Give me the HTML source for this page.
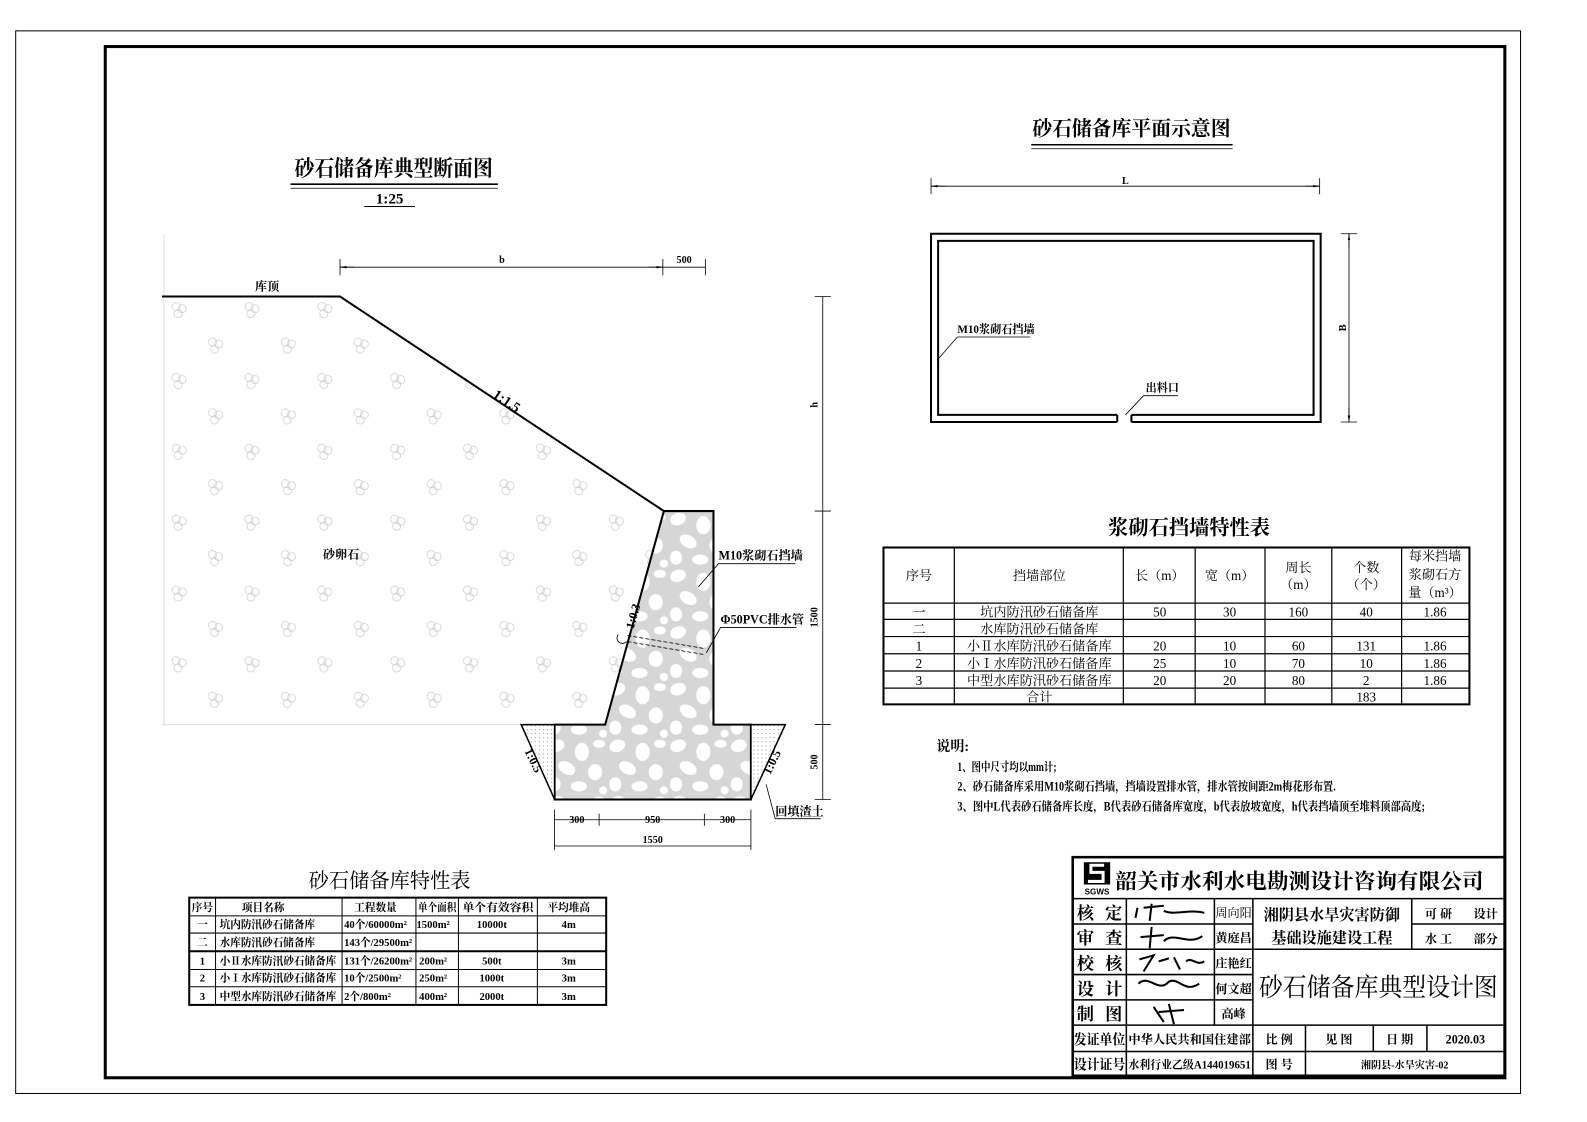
<!DOCTYPE html>
<html><head><meta charset="utf-8"><style>
html,body{margin:0;padding:0;background:#fff;}
svg{display:block;}
text{font-family:"Liberation Serif","Noto Serif CJK SC","Noto Sans CJK SC",serif;fill:#000;}
.b{font-weight:bold;}
.s{font-family:"Liberation Sans","Noto Sans CJK SC",sans-serif;}
</style></head><body>
<svg width="1587" height="1122" viewBox="0 0 1587 1122" xmlns="http://www.w3.org/2000/svg">
<defs>
<pattern id="flw" x="160" y="293" width="72" height="70" patternUnits="userSpaceOnUse">
 <g fill="none" stroke="#d0d0d0" stroke-width="0.8">
  <circle cx="14" cy="10" r="4"/><circle cx="20" cy="12" r="4"/><circle cx="16" cy="17" r="4"/>
  <circle cx="50" cy="45" r="4"/><circle cx="56" cy="47" r="4"/><circle cx="52" cy="52" r="4"/>
 </g>
</pattern>
<pattern id="stone" x="540" y="505" width="60" height="56" patternUnits="userSpaceOnUse">
 <rect width="60" height="56" fill="#d6d6d6"/>
 <g fill="#fff">
  <ellipse cx="10" cy="8" rx="8" ry="6" transform="rotate(-20 10 8)"/>
  <ellipse cx="35" cy="14" rx="7" ry="9"/>
  <ellipse cx="52" cy="6" rx="6" ry="4"/>
  <ellipse cx="20" cy="30" rx="9" ry="6" transform="rotate(30 20 30)"/>
  <ellipse cx="48" cy="34" rx="7" ry="8"/>
  <ellipse cx="8" cy="46" rx="6" ry="7"/>
  <ellipse cx="32" cy="48" rx="8" ry="5"/>
  <ellipse cx="56" cy="52" rx="4" ry="4"/>
 </g>
</pattern>
<pattern id="dots" width="4" height="4" patternUnits="userSpaceOnUse">
 <rect width="4" height="4" fill="#fff"/><circle cx="1" cy="1" r="0.6" fill="#999"/>
</pattern>
<marker id="ar" markerWidth="8" markerHeight="6" refX="8" refY="3" orient="auto-start-reverse"><path d="M0,1.5 L8,3 L0,4.5z" fill="#000"/></marker>
</defs>
<g transform="scale(1.012)">
<!-- frames -->
<rect x="15.5" y="30.5" width="1487" height="1050" fill="none" stroke="#000" stroke-width="1"/>
<rect x="104" y="46" width="1383" height="1019" fill="none" stroke="#000" stroke-width="3"/>

<!-- section title -->
<text x="389" y="174" font-size="22" text-anchor="middle" class="b" textLength="196" lengthAdjust="spacingAndGlyphs">砂石储备库典型断面图</text>
<line x1="287" y1="182" x2="492" y2="182" stroke="#000" stroke-width="1.5"/>
<line x1="287" y1="186" x2="492" y2="186" stroke="#000" stroke-width="0.8"/>
<text x="385" y="201" font-size="15" text-anchor="middle" class="b">1:25</text>
<line x1="360" y1="204" x2="410" y2="204" stroke="#000" stroke-width="1"/>

<!-- soil region -->
<polygon points="160,293 336,293 656,505 598,716 160,716" fill="url(#flw)"/>
<line x1="162" y1="232" x2="162" y2="716" stroke="#ddd" stroke-width="1"/>
<line x1="160" y1="716" x2="515" y2="716" stroke="#ddd" stroke-width="1"/>
<!-- wall -->
<polygon points="656,505 705,505 705,716 742,716 742,790 548,790 548,716 598,716" fill="url(#stone)" stroke="#000" stroke-width="2"/>
<polygon points="515,716 548,716 548,790" fill="url(#dots)" stroke="#000" stroke-width="1.5"/>
<polygon points="742,716 776,716 742,790" fill="url(#dots)" stroke="#000" stroke-width="1.5"/>
<polyline points="160,293 336,293 656,505" fill="none" stroke="#000" stroke-width="2"/>
<!-- drain pipe -->
<line x1="620" y1="628" x2="697" y2="641" stroke="#000" stroke-width="0.8" stroke-dasharray="4,2"/>
<line x1="620" y1="634" x2="697" y2="647" stroke="#000" stroke-width="0.8" stroke-dasharray="4,2"/>
<path d="M619,634 A5,5 0 0 1 611,627" fill="none" stroke="#000" stroke-width="0.8"/>

<!-- labels section -->
<text x="264" y="287" font-size="12" text-anchor="middle" class="b">库顶</text>
<text x="0" y="0" font-size="14" class="b" transform="translate(486,392) rotate(33.5)">1:1.5</text>
<text x="337" y="552" font-size="12" text-anchor="middle" class="b">砂卵石</text>
<text x="710" y="553" font-size="12" class="b">M10浆砌石挡墙</text>
<polyline points="786,557 710,557 690,580" fill="none" stroke="#000" stroke-width="0.8"/>
<text x="712" y="616" font-size="12" class="b">Φ50PVC排水管</text>
<polyline points="787,620 712,620 698,645" fill="none" stroke="#000" stroke-width="0.8"/>
<text x="0" y="0" font-size="12" class="b" transform="translate(626,622) rotate(-74)">1:0.3</text>
<text x="0" y="0" font-size="12" class="b" transform="translate(518,742) rotate(64)">1:0.5</text>
<text x="0" y="0" font-size="12" class="b" transform="translate(761,766) rotate(-64)">1:0.5</text>
<text x="766" y="806" font-size="12" class="b">回填渣土</text>
<polyline points="811,809 766,809 757,775" fill="none" stroke="#000" stroke-width="0.8"/>

<!-- dims top -->
<g stroke="#000" stroke-width="0.8">
<line x1="336" y1="264" x2="697" y2="264"/>
<line x1="336" y1="256" x2="336" y2="272"/><line x1="655" y1="256" x2="655" y2="272"/><line x1="697" y1="256" x2="697" y2="272"/>
<line x1="336" y1="264" x2="350" y2="264" marker-start="url(#ar)"/>
<line x1="641" y1="264" x2="655" y2="264" marker-end="url(#ar)"/>
<line x1="813" y1="293" x2="813" y2="790"/>
<line x1="805" y1="293" x2="821" y2="293"/><line x1="805" y1="505" x2="821" y2="505"/>
<line x1="805" y1="716" x2="821" y2="716"/><line x1="805" y1="790" x2="821" y2="790"/>
<line x1="548" y1="810" x2="742" y2="810"/>
<line x1="548" y1="800" x2="548" y2="840"/><line x1="592" y1="804" x2="592" y2="816"/>
<line x1="696" y1="804" x2="696" y2="816"/><line x1="742" y1="800" x2="742" y2="840"/>
<line x1="548" y1="836" x2="742" y2="836"/>
</g>
<text x="496" y="260" font-size="10" text-anchor="middle" class="b">b</text>
<text x="676" y="260" font-size="10" text-anchor="middle" class="b">500</text>
<text x="0" y="0" font-size="10" class="b" text-anchor="middle" transform="translate(808,400) rotate(-90)">h</text>
<text x="0" y="0" font-size="10" class="b" text-anchor="middle" transform="translate(808,610) rotate(-90)">1500</text>
<text x="0" y="0" font-size="10" class="b" text-anchor="middle" transform="translate(808,753) rotate(-90)">500</text>
<text x="570" y="813" font-size="10" text-anchor="middle" class="b">300</text>
<text x="645" y="813" font-size="10" text-anchor="middle" class="b">950</text>
<text x="719" y="813" font-size="10" text-anchor="middle" class="b">300</text>
<text x="645" y="833" font-size="10" text-anchor="middle" class="b">1550</text>

<!-- plan -->
<text x="1118" y="134" font-size="20" text-anchor="middle" class="b" textLength="196" lengthAdjust="spacingAndGlyphs">砂石储备库平面示意图</text>
<line x1="1019" y1="143" x2="1218" y2="143" stroke="#000" stroke-width="1.5"/>
<line x1="1019" y1="147" x2="1218" y2="147" stroke="#000" stroke-width="0.8"/>
<g stroke="#000" stroke-width="0.8">
<line x1="920" y1="184" x2="1304" y2="184"/>
<line x1="920" y1="176" x2="920" y2="192"/><line x1="1304" y1="176" x2="1304" y2="192"/>
<line x1="920" y1="184" x2="934" y2="184" marker-start="url(#ar)"/>
<line x1="1290" y1="184" x2="1304" y2="184" marker-end="url(#ar)"/>
<line x1="1333" y1="231" x2="1333" y2="417"/>
<line x1="1325" y1="231" x2="1341" y2="231"/><line x1="1325" y1="417" x2="1341" y2="417"/>
<line x1="1333" y1="231" x2="1333" y2="245" marker-start="url(#ar)"/>
<line x1="1333" y1="403" x2="1333" y2="417" marker-end="url(#ar)"/>
</g>
<text x="1112" y="182" font-size="10" text-anchor="middle" class="b">L</text>
<text x="0" y="0" font-size="10" text-anchor="middle" class="b" transform="translate(1330,324) rotate(-90)">B</text>
<g fill="none" stroke="#000" stroke-width="2">
<polyline points="1104,417 920,417 920,231 1305,231 1305,417 1118,417"/>
<polyline points="1104,410 927,410 927,238 1298,238 1298,410 1118,410"/>
<line x1="1104" y1="410" x2="1104" y2="417"/><line x1="1118" y1="410" x2="1118" y2="417"/>
</g>
<text x="946" y="329" font-size="11" class="b">M10浆砌石挡墙</text>
<polyline points="1018,333 946,333 926,356" fill="none" stroke="#000" stroke-width="0.8"/>
<text x="1132" y="387" font-size="11" class="b">出料口</text>
<polyline points="1164,391 1130,391 1112,410" fill="none" stroke="#000" stroke-width="0.8"/>

<!-- table right -->
<text x="1175" y="528" font-size="20" text-anchor="middle" class="b">浆砌石挡墙特性表</text>
<g stroke="#000" fill="none">
<rect x="873" y="541" width="579" height="155" stroke-width="2"/>
<g stroke-width="1.2">
<line x1="873" y1="596" x2="1452" y2="596"/><line x1="873" y1="612" x2="1452" y2="612"/>
<line x1="873" y1="629" x2="1452" y2="629"/><line x1="873" y1="646" x2="1452" y2="646"/>
<line x1="873" y1="663" x2="1452" y2="663"/><line x1="873" y1="680" x2="1452" y2="680"/>
<line x1="943" y1="541" x2="943" y2="696"/><line x1="1110" y1="541" x2="1110" y2="696"/>
<line x1="1181" y1="541" x2="1181" y2="696"/><line x1="1250" y1="541" x2="1250" y2="696"/>
<line x1="1316" y1="541" x2="1316" y2="696"/><line x1="1385" y1="541" x2="1385" y2="696"/>
</g></g>
<g font-size="13" text-anchor="middle" fill="#333">
<text x="908" y="573">序号</text><text x="1027" y="573">挡墙部位</text>
<text x="1146" y="573">长（m）</text><text x="1215" y="573">宽（m）</text>
<text x="1283" y="565">周长</text><text x="1283" y="582">（m）</text>
<text x="1350" y="565">个数</text><text x="1350" y="582">（个）</text>
<text x="1418" y="554">每米挡墙</text><text x="1418" y="572">浆砌石方</text><text x="1418" y="590">量（m³）</text>
<text x="908" y="609">一</text><text x="1027" y="609">坑内防汛砂石储备库</text><text x="1146" y="609">50</text><text x="1215" y="609">30</text><text x="1283" y="609">160</text><text x="1350" y="609">40</text><text x="1418" y="609">1.86</text>
<text x="908" y="626">二</text><text x="1027" y="626">水库防汛砂石储备库</text>
<text x="908" y="643">1</text><text x="1027" y="643">小Ⅱ水库防汛砂石储备库</text><text x="1146" y="643">20</text><text x="1215" y="643">10</text><text x="1283" y="643">60</text><text x="1350" y="643">131</text><text x="1418" y="643">1.86</text>
<text x="908" y="660">2</text><text x="1027" y="660">小Ⅰ水库防汛砂石储备库</text><text x="1146" y="660">25</text><text x="1215" y="660">10</text><text x="1283" y="660">70</text><text x="1350" y="660">10</text><text x="1418" y="660">1.86</text>
<text x="908" y="677">3</text><text x="1027" y="677">中型水库防汛砂石储备库</text><text x="1146" y="677">20</text><text x="1215" y="677">20</text><text x="1283" y="677">80</text><text x="1350" y="677">2</text><text x="1418" y="677">1.86</text>
<text x="1027" y="693">合计</text><text x="1350" y="693">183</text>
</g>

<!-- notes -->
<g class="b" font-size="12">
<text x="925" y="742" font-size="14" class="b">说明:</text>
<text x="946" y="762" textLength="98" lengthAdjust="spacingAndGlyphs">1、图中尺寸均以mm计;</text>
<text x="946" y="781" textLength="374" lengthAdjust="spacingAndGlyphs">2、砂石储备库采用M10浆砌石挡墙，挡墙设置排水管，排水管按间距2m梅花形布置.</text>
<text x="946" y="801" textLength="462" lengthAdjust="spacingAndGlyphs">3、图中L代表砂石储备库长度，B代表砂石储备库宽度，b代表放坡宽度，h代表挡墙顶至堆料顶部高度;</text>
</g>

<!-- table left -->
<text x="385" y="877" font-size="20" text-anchor="middle">砂石储备库特性表</text>
<g stroke="#000" fill="none">
<rect x="187" y="887" width="412" height="106" stroke-width="2"/>
<g stroke-width="1">
<line x1="187" y1="905" x2="599" y2="905"/><line x1="187" y1="922" x2="599" y2="922"/>
<line x1="187" y1="940" x2="599" y2="940" stroke-width="2"/><line x1="187" y1="958" x2="599" y2="958"/>
<line x1="187" y1="975" x2="599" y2="975"/>
<line x1="213" y1="887" x2="213" y2="993"/><line x1="338" y1="887" x2="338" y2="993"/>
<line x1="411" y1="887" x2="411" y2="993"/><line x1="453" y1="887" x2="453" y2="993"/>
<line x1="531" y1="887" x2="531" y2="993"/>
</g></g>
<g font-size="10.5" class="b">
<g text-anchor="middle">
<text x="200" y="900">序号</text><text x="260" y="900">项目名称</text><text x="371" y="900">工程数量</text><text x="432" y="900" textLength="38" lengthAdjust="spacingAndGlyphs">单个面积</text><text x="492" y="900" textLength="70" lengthAdjust="spacingAndGlyphs">单个有效容积</text><text x="562" y="900">平均堆高</text>
<text x="200" y="917">一</text><text x="200" y="935">二</text><text x="200" y="953">1</text><text x="200" y="970">2</text><text x="200" y="988">3</text>
<text x="428" y="917">1500m²</text><text x="486" y="917">10000t</text><text x="562" y="917">4m</text>
<text x="428" y="953">200m²</text><text x="486" y="953">500t</text><text x="562" y="953">3m</text>
<text x="428" y="970">250m²</text><text x="486" y="970">1000t</text><text x="562" y="970">3m</text>
<text x="428" y="988">400m²</text><text x="486" y="988">2000t</text><text x="562" y="988">3m</text>
</g>
<text x="217" y="917">坑内防汛砂石储备库</text><text x="217" y="935">水库防汛砂石储备库</text>
<text x="217" y="953">小Ⅱ水库防汛砂石储备库</text><text x="217" y="970">小Ⅰ水库防汛砂石储备库</text><text x="217" y="988">中型水库防汛砂石储备库</text>
<text x="340" y="917">40个/60000m²</text><text x="340" y="935">143个/29500m²</text><text x="340" y="953">131个/26200m²</text><text x="340" y="970">10个/2500m²</text><text x="340" y="988">2个/800m²</text>
</g>

<!-- title block -->
<g stroke="#000" fill="none">
<rect x="1060" y="847" width="427" height="216" stroke-width="2.5"/>
<g stroke-width="1.5">
<line x1="1060" y1="888" x2="1487" y2="888"/>
<line x1="1060" y1="913" x2="1238" y2="913"/>
<line x1="1060" y1="938" x2="1487" y2="938"/>
<line x1="1060" y1="963" x2="1238" y2="963"/>
<line x1="1060" y1="988" x2="1238" y2="988"/>
<line x1="1060" y1="1013" x2="1487" y2="1013"/>
<line x1="1060" y1="1039" x2="1487" y2="1039"/>
<line x1="1395" y1="913" x2="1487" y2="913"/>
<line x1="1113" y1="888" x2="1113" y2="1063"/>
<line x1="1200" y1="888" x2="1200" y2="1013"/>
<line x1="1238" y1="888" x2="1238" y2="1063"/>
<line x1="1395" y1="888" x2="1395" y2="938"/>
<line x1="1290" y1="1013" x2="1290" y2="1063"/>
<line x1="1357" y1="1013" x2="1357" y2="1039"/>
<line x1="1410" y1="1013" x2="1410" y2="1039"/>
</g></g>
<rect x="1071" y="852" width="26" height="22" fill="#000"/>
<path d="M1091,855 L1078,855 L1078,862 L1090,862 L1090,871 L1075,871" fill="none" stroke="#fff" stroke-width="3"/>
<text x="1084" y="884" font-size="8" text-anchor="middle" class="s b">SGWS</text>
<g class="s b">
<text x="1102" y="878" font-size="21" textLength="364" lengthAdjust="spacingAndGlyphs">韶关市水利水电勘测设计咨询有限公司</text>
<g font-size="17">
<text x="1064" y="908" textLength="45">核 定</text>
<text x="1064" y="933" textLength="45">审 查</text>
<text x="1064" y="958" textLength="45">校 核</text>
<text x="1064" y="983" textLength="45">设 计</text>
<text x="1064" y="1008" textLength="45">制 图</text>
</g>
<g font-size="12" text-anchor="middle">
<text x="1219" y="906" font-weight="normal">周向阳</text>
<text x="1219" y="931">黄庭昌</text>
<text x="1219" y="956">庄艳红</text>
<text x="1219" y="981">何文超</text>
<text x="1219" y="1006">高峰</text>
</g>
<text x="1316" y="909" font-size="15" text-anchor="middle">湘阴县水旱灾害防御</text>
<text x="1316" y="932" font-size="15" text-anchor="middle">基础设施建设工程</text>
<text x="1408" y="907" font-size="12">可 研</text><text x="1456" y="907" font-size="12">设计</text>
<text x="1408" y="932" font-size="12">水 工</text><text x="1456" y="932" font-size="12">部分</text>
<text x="1362" y="984" font-size="25" text-anchor="middle" font-weight="normal" textLength="236" lengthAdjust="spacingAndGlyphs">砂石储备库典型设计图</text>
<text x="1061" y="1032" font-size="14" textLength="51" lengthAdjust="spacingAndGlyphs">发证单位</text>
<text x="1115" y="1031" font-size="12" textLength="121" lengthAdjust="spacingAndGlyphs">中华人民共和国住建部</text>
<text x="1061" y="1057" font-size="14" textLength="51" lengthAdjust="spacingAndGlyphs">设计证号</text>
<text x="1115" y="1056" font-size="11" textLength="121" lengthAdjust="spacingAndGlyphs">水利行业乙级A144019651</text>
<g font-size="12" text-anchor="middle">
<text x="1264" y="1031">比 例</text><text x="1323" y="1031">见 图</text><text x="1383" y="1031">日 期</text><text x="1448" y="1031">2020.03</text>
<text x="1264" y="1056">图 号</text><text x="1388" y="1056" font-size="10">湘阴县-水旱灾害-02</text>
</g>
</g>
<g fill="none" stroke="#000" stroke-width="2">
<path d="M1122,907 L1124,897 M1130,897 L1150,895 M1138,893 L1136,910 M1150,900 C1160,905 1175,898 1190,902"/>
<path d="M1127,926 L1150,924 M1138,916 L1136,937 M1150,930 C1160,920 1175,935 1188,925"/>
<path d="M1126,948 L1140,944 L1130,960 M1145,950 L1155,947 M1160,946 L1166,958 M1172,950 C1178,945 1182,955 1190,950"/>
<path d="M1125,972 C1135,962 1145,982 1155,970 C1165,965 1170,982 1185,972"/>
<path d="M1140,995 L1150,1010 M1155,992 L1160,1012 M1145,1000 L1170,998"/>
</g>
</g>
</svg>
</body></html>
